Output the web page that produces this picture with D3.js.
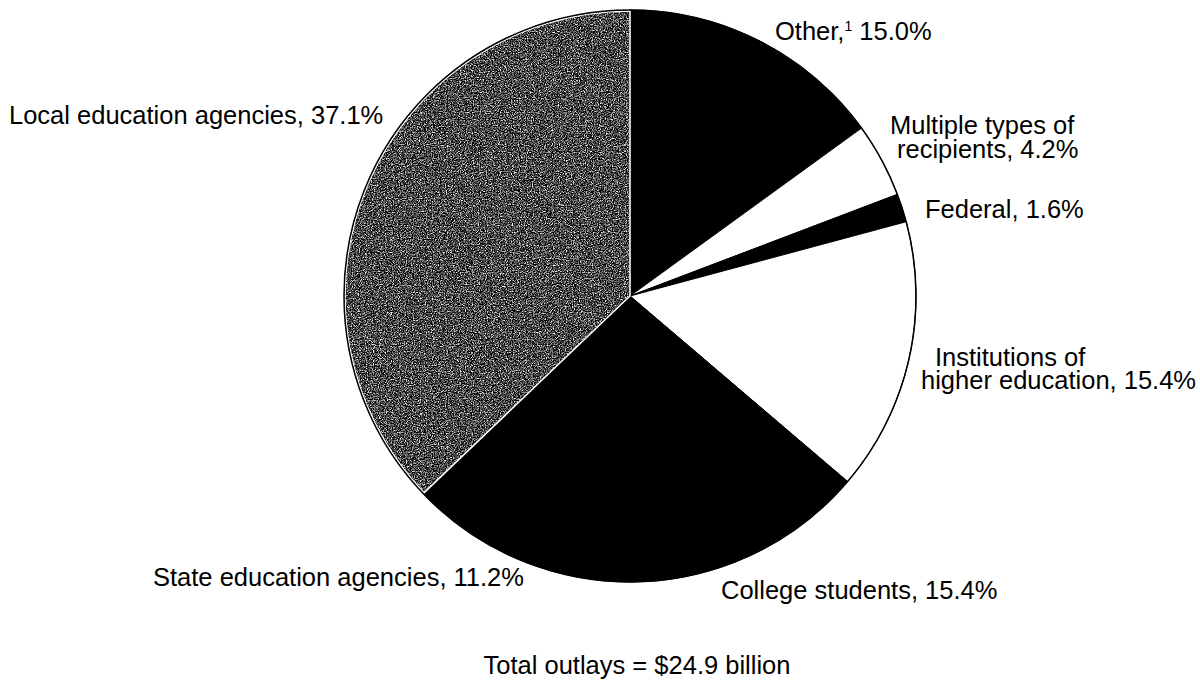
<!DOCTYPE html>
<html>
<head>
<meta charset="utf-8">
<script src="https://cdn.jsdelivr.net/npm/d3@7"></script>
<style>
  html, body { margin: 0; padding: 0; background: #fff; }
  svg { display: block; }
  text { font-family: "Liberation Sans", Arial, Helvetica, sans-serif; font-size: 25.5px; fill: #000; }
</style>
</head>
<body>
<svg id="chart" width="1200" height="681"></svg>
<script>
// Federal education outlays by type of recipient (percent of total)
const categories = [
  "Other",
  "Multiple types of recipients",
  "Federal",
  "Institutions of higher education",
  "College students",
  "State education agencies",
  "Local education agencies"
];
const shares = [15.0, 4.2, 1.6, 15.4, 15.4, 11.2, 37.1];
const totalOutlays = 24.9; // billions of dollars

const W = 1200, H = 681;
const cx = 630, cy = 296, R = 286;

const svg = d3.select("#chart");

// grainy halftone texture for the grey slice
const defs = svg.append("defs");
const grain = defs.append("filter")
  .attr("id", "grain")
  .attr("x", "-2%").attr("y", "-2%")
  .attr("width", "104%").attr("height", "104%")
  .attr("color-interpolation-filters", "sRGB");
grain.append("feTurbulence")
  .attr("type", "fractalNoise")
  .attr("baseFrequency", 0.85)
  .attr("numOctaves", 2)
  .attr("seed", 7)
  .attr("result", "noise");
grain.append("feColorMatrix")
  .attr("in", "noise")
  .attr("type", "matrix")
  .attr("values", "0.33 0.33 0.33 0 0  0.33 0.33 0.33 0 0  0.33 0.33 0.33 0 0  0 0 0 0 1")
  .attr("result", "grey");
const ct = grain.append("feComponentTransfer").attr("in", "grey").attr("result", "speck");
["feFuncR", "feFuncG", "feFuncB"].forEach(f =>
  ct.append(f).attr("type", "linear").attr("slope", 4.5).attr("intercept", -1.95));
grain.append("feComposite")
  .attr("in", "speck")
  .attr("in2", "SourceGraphic")
  .attr("operator", "in");

const fill = d3.scaleOrdinal()
  .domain(categories)
  .range(["#000", "#fff", "#000", "#fff", "#000", "#000", "#808080"]);

const pie = d3.pie().sort(null).value(d => d.value).startAngle(0).endAngle(2 * Math.PI);
const arcs = pie(categories.map((name, i) => ({ name, value: shares[i] })));
const arc = d3.arc().innerRadius(0).outerRadius(R);

const g = svg.append("g").attr("transform", `translate(${cx},${cy})`);

g.selectAll("path.slice")
  .data(arcs)
  .join("path")
  .attr("class", "slice")
  .attr("d", arc)
  .attr("fill", d => fill(d.data.name))
  .attr("filter", d => d.data.name === "Local education agencies" ? "url(#grain)" : null)
  .attr("stroke", d => d.data.name === "Local education agencies" ? "none" : "#000")
  .attr("stroke-width", 1);

// light edge around the grey slice
g.selectAll("path.edge")
  .data(arcs.filter(d => d.data.name === "Local education agencies"))
  .join("path")
  .attr("class", "edge")
  .attr("d", d3.arc().innerRadius(0).outerRadius(R - 1))
  .attr("fill", "none")
  .attr("stroke", "#fff")
  .attr("stroke-width", 1.5);

// outer rim
g.append("circle")
  .attr("r", R)
  .attr("fill", "none")
  .attr("stroke", "#000")
  .attr("stroke-width", 1.5);

// slice labels
const pct = v => `${v.toFixed(1)}%`;
const labelLayout = [
  { lines: [{ x: 775, y: 40 }] },
  { lines: [{ x: 890, y: 134, t: "Multiple types of" }, { x: 897, y: 158, t: i => `recipients, ${pct(shares[i])}` }] },
  { lines: [{ x: 925, y: 218 }] },
  { lines: [{ x: 935, y: 366, t: "Institutions of" }, { x: 921, y: 389, t: i => `higher education, ${pct(shares[i])}` }] },
  { lines: [{ x: 721, y: 599 }] },
  { lines: [{ x: 153, y: 586 }] },
  { lines: [{ x: 9, y: 124 }] }
];

const labels = svg.append("g").attr("class", "labels");
labelLayout.forEach((lay, i) => {
  const t = labels.append("text");
  lay.lines.forEach(line => {
    if (i === 0) {
      t.attr("x", line.x).attr("y", line.y);
      t.append("tspan").text(`${categories[i]},`);
      t.append("tspan").attr("font-size", 14).attr("dy", -9).text("1");
      t.append("tspan").attr("dy", 9).text(` ${pct(shares[i])}`);
    } else if (line.t === undefined) {
      t.attr("x", line.x).attr("y", line.y).text(`${categories[i]}, ${pct(shares[i])}`);
    } else {
      t.append("tspan")
        .attr("x", line.x)
        .attr("y", line.y)
        .text(typeof line.t === "function" ? line.t(i) : line.t);
    }
  });
});

svg.append("text")
  .attr("x", 637)
  .attr("y", 674)
  .attr("text-anchor", "middle")
  .text(`Total outlays = $${totalOutlays} billion`);
</script>
</body>
</html>
